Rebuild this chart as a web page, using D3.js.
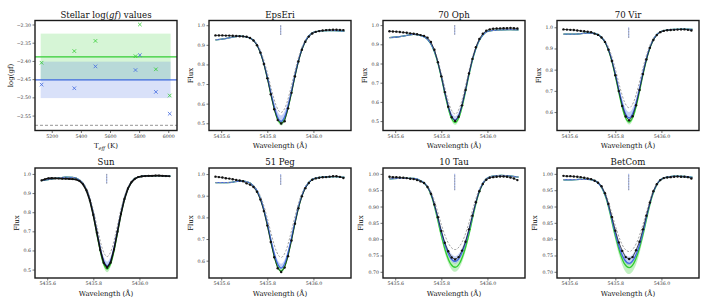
<!DOCTYPE html>
<html><head><meta charset="utf-8">
<script src="https://cdn.jsdelivr.net/npm/d3@7"></script>
<style>body{margin:0;background:#fff} svg{display:block}</style>
</head><body><svg id="c" width="707" height="303"></svg>
<script>
// ---------- DATA ----------
// Panel 1: stellar log(gf)
const teff = [5130, 5355, 5500, 5775, 5805, 5915, 6010];
const loggfGreen = [-2.405, -2.373, -2.345, -2.387, -2.300, -2.423, -2.495];
const loggfBlue  = [-2.465, -2.475, -2.415, -2.425, -2.384, -2.485, -2.545];
const greenMean = -2.389, greenBand = [-2.453, -2.325];
const blueMean = -2.452, blueBand = [-2.502, -2.402];
const bandTeffRange = [5124, 6016];
const refLoggf = -2.577;
const teffTicks = [5200, 5400, 5600, 5800, 6000];
const loggfTicks = [-2.30, -2.35, -2.40, -2.45, -2.50, -2.55];

// Spectral panels
const starNames = ["EpsEri", "70 Oph", "70 Vir", "Sun", "51 Peg", "10 Tau", "BetCom"];
const waveObs = [5435.575,5435.590,5435.605,5435.620,5435.635,5435.650,5435.665,5435.680,5435.695,5435.710,
  5435.725,5435.740,5435.755,5435.770,5435.785,5435.800,5435.815,5435.830,5435.845,5435.860,
  5435.875,5435.890,5435.905,5435.920,5435.935,5435.950,5435.965,5435.980,5435.995,5436.010,
  5436.025,5436.040,5436.055,5436.070,5436.085,5436.100,5436.115,5436.130];
const waveModel = [5435.575,5435.61,5435.645,5435.68,5435.71,5435.74,5435.76,5435.78,5435.80,5435.82,
  5435.84,5435.86,5435.88,5435.90,5435.92,5435.94,5435.96,5435.98,5436.00,5436.03,5436.06,5436.095,5436.135];
const waveCore = [5435.78,5435.80,5435.82,5435.84,5435.86,5435.88,5435.90,5435.92,5435.94];
const waveTicks = [5435.6, 5435.8, 5436.0];
const lineCentre = 5435.858, markerFlux = [0.95, 1.0];

const obsFlux = [
 [0.948,0.948,0.948,0.947,0.947,0.946,0.945,0.944,0.943,0.941,0.935,0.922,0.898,0.860,0.802,0.729,0.648,0.571,0.516,0.499,0.510,0.576,0.655,0.739,0.815,0.875,0.916,0.942,0.958,0.966,0.970,0.973,0.975,0.976,0.977,0.977,0.976,0.975],
 [0.968,0.967,0.966,0.964,0.962,0.960,0.957,0.955,0.952,0.948,0.944,0.935,0.912,0.872,0.807,0.733,0.651,0.575,0.520,0.501,0.523,0.582,0.662,0.748,0.824,0.885,0.928,0.955,0.971,0.978,0.981,0.982,0.983,0.984,0.984,0.985,0.984,0.982],
 [0.990,0.989,0.988,0.987,0.985,0.983,0.981,0.979,0.977,0.970,0.964,0.952,0.931,0.894,0.841,0.774,0.699,0.629,0.579,0.561,0.580,0.632,0.704,0.779,0.848,0.903,0.940,0.963,0.977,0.983,0.986,0.987,0.988,0.989,0.990,0.990,0.988,0.985],
 [0.966,0.972,0.977,0.978,0.977,0.976,0.975,0.975,0.974,0.973,0.971,0.963,0.946,0.914,0.861,0.785,0.693,0.603,0.535,0.510,0.536,0.606,0.698,0.791,0.868,0.923,0.956,0.974,0.984,0.987,0.989,0.990,0.990,0.991,0.991,0.990,0.989,0.988],
 [0.988,0.986,0.984,0.981,0.979,0.976,0.973,0.970,0.967,0.957,0.951,0.940,0.918,0.882,0.829,0.762,0.686,0.616,0.565,0.548,0.568,0.621,0.693,0.771,0.842,0.897,0.935,0.959,0.974,0.980,0.983,0.985,0.986,0.988,0.990,0.990,0.987,0.982],
 [0.991,0.990,0.990,0.989,0.988,0.987,0.985,0.984,0.981,0.977,0.972,0.960,0.939,0.906,0.867,0.825,0.789,0.763,0.744,0.738,0.745,0.765,0.792,0.830,0.872,0.913,0.947,0.969,0.982,0.988,0.990,0.991,0.992,0.992,0.991,0.989,0.986,0.981],
 [0.994,0.993,0.993,0.992,0.991,0.990,0.988,0.986,0.984,0.979,0.973,0.962,0.941,0.908,0.868,0.826,0.790,0.764,0.745,0.739,0.745,0.766,0.792,0.830,0.872,0.912,0.947,0.968,0.981,0.987,0.989,0.990,0.991,0.992,0.991,0.991,0.990,0.986]
];
const blueFlux = [
 [0.925,0.930,0.938,0.944,0.940,0.923,0.890,0.827,0.736,0.631,0.544,0.510,0.547,0.637,0.746,0.841,0.908,0.945,0.963,0.971,0.973,0.972,0.970],
 [0.935,0.938,0.945,0.952,0.946,0.926,0.892,0.829,0.734,0.626,0.538,0.505,0.542,0.634,0.746,0.843,0.910,0.948,0.967,0.973,0.975,0.976,0.975],
 [0.968,0.968,0.969,0.973,0.971,0.953,0.922,0.865,0.780,0.683,0.603,0.572,0.605,0.687,0.786,0.873,0.932,0.966,0.981,0.988,0.990,0.991,0.990],
 [0.965,0.972,0.978,0.983,0.982,0.968,0.942,0.887,0.792,0.671,0.563,0.520,0.565,0.673,0.796,0.891,0.948,0.976,0.985,0.990,0.991,0.991,0.989],
 [0.960,0.960,0.962,0.968,0.965,0.945,0.914,0.856,0.772,0.675,0.597,0.566,0.599,0.681,0.780,0.868,0.928,0.961,0.978,0.985,0.987,0.988,0.985],
 [0.985,0.986,0.986,0.986,0.979,0.961,0.930,0.879,0.822,0.774,0.743,0.732,0.745,0.778,0.827,0.885,0.938,0.971,0.987,0.994,0.995,0.994,0.990],
 [0.982,0.982,0.983,0.983,0.979,0.960,0.928,0.876,0.818,0.769,0.737,0.726,0.739,0.771,0.822,0.882,0.934,0.968,0.984,0.991,0.993,0.992,0.989]
];
const greenFlux = [
 [0.925,0.930,0.938,0.944,0.940,0.923,0.888,0.825,0.731,0.623,0.534,0.500,0.537,0.629,0.741,0.839,0.906,0.945,0.963,0.971,0.973,0.972,0.970],
 [0.935,0.938,0.945,0.952,0.946,0.926,0.890,0.825,0.728,0.617,0.526,0.492,0.530,0.625,0.740,0.839,0.908,0.948,0.967,0.973,0.975,0.976,0.975],
 [0.968,0.968,0.969,0.973,0.971,0.953,0.920,0.859,0.770,0.668,0.585,0.553,0.587,0.672,0.776,0.867,0.930,0.966,0.981,0.988,0.990,0.991,0.990],
 [0.965,0.972,0.978,0.983,0.982,0.968,0.940,0.883,0.785,0.658,0.547,0.502,0.548,0.660,0.788,0.888,0.946,0.976,0.985,0.990,0.991,0.991,0.989],
 [0.960,0.960,0.962,0.968,0.965,0.945,0.912,0.853,0.766,0.666,0.585,0.553,0.587,0.672,0.774,0.864,0.926,0.961,0.978,0.985,0.987,0.988,0.985],
 [0.985,0.986,0.986,0.986,0.979,0.960,0.926,0.872,0.811,0.759,0.725,0.714,0.727,0.763,0.815,0.878,0.934,0.970,0.987,0.994,0.995,0.994,0.990],
 [0.982,0.982,0.983,0.983,0.979,0.959,0.925,0.870,0.810,0.759,0.724,0.713,0.726,0.761,0.814,0.876,0.931,0.967,0.984,0.991,0.993,0.992,0.989]
];
const greyFlux = [
 [0.925,0.930,0.938,0.944,0.940,0.924,0.896,0.840,0.758,0.663,0.585,0.555,0.588,0.669,0.768,0.854,0.914,0.947,0.963,0.971,0.973,0.972,0.970],
 [0.935,0.938,0.945,0.952,0.946,0.928,0.896,0.838,0.750,0.650,0.568,0.537,0.572,0.658,0.762,0.852,0.914,0.950,0.967,0.973,0.975,0.976,0.975],
 [0.968,0.968,0.969,0.973,0.971,0.955,0.929,0.878,0.803,0.717,0.647,0.620,0.649,0.721,0.809,0.886,0.939,0.968,0.981,0.988,0.990,0.991,0.990],
 [0.965,0.972,0.978,0.983,0.982,0.970,0.947,0.897,0.812,0.703,0.606,0.568,0.608,0.705,0.816,0.901,0.953,0.978,0.985,0.990,0.991,0.991,0.989],
 [0.960,0.960,0.962,0.968,0.965,0.947,0.920,0.870,0.796,0.711,0.642,0.615,0.644,0.717,0.804,0.882,0.934,0.963,0.978,0.985,0.987,0.988,0.985],
 [0.985,0.986,0.986,0.986,0.979,0.963,0.938,0.894,0.845,0.804,0.777,0.768,0.779,0.807,0.850,0.900,0.945,0.973,0.987,0.994,0.995,0.994,0.990],
 [0.982,0.982,0.983,0.983,0.979,0.962,0.936,0.891,0.841,0.799,0.771,0.762,0.773,0.802,0.845,0.896,0.941,0.970,0.984,0.991,0.993,0.992,0.989]
];
const blueLo = [
 [0.824,0.731,0.624,0.535,0.500,0.538,0.630,0.741,0.838],
 [0.827,0.730,0.620,0.531,0.497,0.535,0.628,0.742,0.841],
 [0.863,0.777,0.679,0.597,0.566,0.599,0.683,0.783,0.871],
 [0.885,0.789,0.666,0.556,0.512,0.558,0.668,0.793,0.889],
 [0.854,0.769,0.671,0.591,0.560,0.593,0.677,0.777,0.866],
 [0.876,0.818,0.768,0.736,0.725,0.738,0.772,0.823,0.882],
 [0.874,0.814,0.764,0.731,0.720,0.733,0.766,0.818,0.880]
];
const blueHi = [
 [0.835,0.751,0.653,0.572,0.540,0.575,0.659,0.761,0.849],
 [0.835,0.744,0.641,0.556,0.525,0.560,0.649,0.756,0.849],
 [0.873,0.794,0.703,0.629,0.600,0.631,0.707,0.800,0.881],
 [0.892,0.801,0.686,0.583,0.542,0.585,0.688,0.805,0.896],
 [0.862,0.782,0.690,0.615,0.586,0.617,0.696,0.790,0.874],
 [0.886,0.832,0.787,0.758,0.748,0.760,0.791,0.837,0.892],
 [0.884,0.831,0.786,0.756,0.746,0.758,0.788,0.835,0.890]
];
const greenLo = [
 [0.822,0.725,0.614,0.523,0.488,0.526,0.620,0.735,0.836],
 [0.822,0.722,0.608,0.515,0.480,0.519,0.616,0.734,0.836],
 [0.856,0.764,0.659,0.574,0.541,0.576,0.663,0.770,0.864],
 [0.880,0.778,0.647,0.533,0.486,0.534,0.649,0.781,0.885],
 [0.850,0.761,0.659,0.576,0.543,0.578,0.665,0.769,0.861],
 [0.866,0.802,0.747,0.712,0.700,0.714,0.751,0.806,0.872],
 [0.862,0.797,0.742,0.705,0.693,0.707,0.744,0.801,0.868]
];
const greenHi = [
 [0.828,0.737,0.632,0.545,0.512,0.548,0.638,0.747,0.842],
 [0.828,0.734,0.626,0.537,0.504,0.541,0.634,0.746,0.842],
 [0.862,0.776,0.677,0.596,0.565,0.598,0.681,0.782,0.870],
 [0.885,0.790,0.666,0.558,0.514,0.559,0.668,0.793,0.890],
 [0.856,0.771,0.673,0.594,0.563,0.596,0.679,0.779,0.867],
 [0.878,0.820,0.771,0.738,0.728,0.740,0.775,0.824,0.884],
 [0.875,0.818,0.770,0.736,0.726,0.738,0.772,0.822,0.881]
];
const fluxTicksA = [0.5, 0.6, 0.7, 0.8, 0.9, 1.0];
const fluxTicksB = [0.6, 0.7, 0.8, 0.9, 1.0];
const fluxTicksC = [0.70, 0.75, 0.80, 0.85, 0.90, 0.95, 1.00];

// ---------- LAYOUT / STYLE ----------
const W = 142, H = 110;
const FONT = "DejaVu Serif, serif";
const BLUE = "#4169e1", GREEN = "#32cd32", GREY = "#999999";
const layout = [
 {x:209, y:20.5, yd:[0.463,1.024], ticks:fluxTicksA, fmt:".1f"},
 {x:383, y:20.5, yd:[0.451,1.024], ticks:fluxTicksA, fmt:".1f"},
 {x:557, y:20.5, yd:[0.513,1.032], ticks:fluxTicksB, fmt:".1f"},
 {x:35,  y:168,  yd:[0.456,1.031], ticks:fluxTicksA, fmt:".1f", thick:true},
 {x:209, y:168,  yd:[0.520,1.028], ticks:fluxTicksB, fmt:".1f"},
 {x:383, y:168,  yd:[0.681,1.018], ticks:fluxTicksC, fmt:".2f"},
 {x:557, y:168,  yd:[0.681,1.018], ticks:fluxTicksC, fmt:".2f"}
];
const waveDomain = [5435.547, 5436.163];

const svg = d3.select("#c");

function styleAxis(sel) {
  sel.attr("font-family", FONT).attr("font-size", 4.7);
  sel.select(".domain").remove();
  sel.selectAll(".tick line").attr("stroke", "#333").attr("stroke-width", 0.7);
  sel.selectAll(".tick text").attr("fill", "#333");
}
function frame(g) {
  g.append("rect").attr("x",0).attr("y",0).attr("width",W).attr("height",H)
    .attr("fill","none").attr("stroke","#1a1a1a").attr("stroke-width",1.4);
}
let clipId = 0;
function clip(g) {
  const id = "clip" + (clipId++);
  g.append("clipPath").attr("id", id).append("rect").attr("width", W).attr("height", H);
  return g.append("g").attr("clip-path", `url(#${id})`);
}

// ---------- PANEL 1 ----------
{
  const g = svg.append("g").attr("transform", "translate(35,20.5)");
  const x = d3.scaleLinear().domain([5085, 6060]).range([0, W]);
  const y = d3.scaleLinear().domain([-2.591, -2.289]).range([H, 0]);
  const c = clip(g);
  c.append("rect").attr("x", x(bandTeffRange[0])).attr("width", x(bandTeffRange[1]) - x(bandTeffRange[0]))
    .attr("y", y(greenBand[1])).attr("height", y(greenBand[0]) - y(greenBand[1]))
    .attr("fill", GREEN).attr("fill-opacity", 0.2);
  c.append("rect").attr("x", x(bandTeffRange[0])).attr("width", x(bandTeffRange[1]) - x(bandTeffRange[0]))
    .attr("y", y(blueBand[1])).attr("height", y(blueBand[0]) - y(blueBand[1]))
    .attr("fill", BLUE).attr("fill-opacity", 0.2);
  c.append("line").attr("x1",0).attr("x2",W).attr("y1",y(greenMean)).attr("y2",y(greenMean))
    .attr("stroke",GREEN).attr("stroke-width",1.1);
  c.append("line").attr("x1",0).attr("x2",W).attr("y1",y(blueMean)).attr("y2",y(blueMean))
    .attr("stroke",BLUE).attr("stroke-width",1.1);
  c.append("line").attr("x1",0).attr("x2",W).attr("y1",y(refLoggf)).attr("y2",y(refLoggf))
    .attr("stroke","#aaa").attr("stroke-width",1.2).attr("stroke-dasharray","3,2");
  const xm = "M-1.8,-1.8L1.8,1.8M-1.8,1.8L1.8,-1.8";
  c.selectAll(".gx").data(teff).join("path").attr("d", xm)
    .attr("transform", (d,i) => `translate(${x(d)},${y(loggfGreen[i])})`)
    .attr("stroke", GREEN).attr("stroke-width", 0.8).attr("fill","none");
  c.selectAll(".bx").data(teff).join("path").attr("d", xm)
    .attr("transform", (d,i) => `translate(${x(d)},${y(loggfBlue[i])})`)
    .attr("stroke", BLUE).attr("stroke-width", 0.8).attr("fill","none");
  frame(g);
  g.append("g").attr("transform", `translate(0,${H})`)
    .call(d3.axisBottom(x).tickValues(teffTicks).tickSize(2.5).tickPadding(1.5).tickFormat(d3.format("d")))
    .call(styleAxis);
  g.append("g").call(d3.axisLeft(y).tickValues(loggfTicks).tickSize(2.5).tickPadding(1.5).tickFormat(d3.format(".2f")))
    .call(styleAxis);
  const t = g.append("text").attr("x", W/2).attr("y", -3).attr("text-anchor","middle")
    .attr("font-family", FONT).attr("font-size", 8.6).attr("fill","#111");
  t.append("tspan").text("Stellar log(");
  t.append("tspan").attr("font-style","italic").text("gf");
  t.append("tspan").text(") values");
  const xl = g.append("text").attr("x", W/2).attr("y", H + 17.5).attr("text-anchor","middle")
    .attr("font-family", FONT).attr("font-size", 7).attr("fill","#111");
  xl.append("tspan").text("T");
  xl.append("tspan").attr("font-size", 5).attr("font-style","italic").attr("dy", 1.5).text("eff");
  xl.append("tspan").attr("dy", -1.5).text(" (K)");
  g.append("text").attr("transform", `translate(-22.5,${H/2}) rotate(-90)`).attr("text-anchor","middle")
    .attr("font-family", FONT).attr("font-size", 7).attr("fill","#111").text("log(gf)");
}

// ---------- SPECTRAL PANELS ----------
starNames.forEach((name, i) => {
  const L = layout[i];
  const g = svg.append("g").attr("transform", `translate(${L.x},${L.y})`);
  const x = d3.scaleLinear().domain(waveDomain).range([0, W]);
  const y = d3.scaleLinear().domain(L.yd).range([H, 0]);
  const c = clip(g);
  const curve = d3.curveMonotoneX;
  const band = (lo, hi) => d3.area().x((d,j) => x(waveCore[j])).y0((d,j) => y(lo[j])).y1((d,j) => y(hi[j])).curve(curve)(waveCore);
  c.append("path").attr("d", band(greenLo[i], greenHi[i])).attr("fill", GREEN).attr("fill-opacity", 0.3);
  c.append("path").attr("d", band(blueLo[i], blueHi[i])).attr("fill", BLUE).attr("fill-opacity", 0.3);
  const mline = arr => d3.line().x((d,j) => x(waveModel[j])).y(d => y(d)).curve(curve)(arr);
  c.append("path").attr("d", mline(greenFlux[i])).attr("fill","none").attr("stroke", GREEN).attr("stroke-width", 1.3);
  c.append("path").attr("d", mline(blueFlux[i])).attr("fill","none").attr("stroke", BLUE).attr("stroke-width", 1.3);
  c.append("path").attr("d", mline(greyFlux[i])).attr("fill","none").attr("stroke", GREY).attr("stroke-width", 0.9).attr("stroke-dasharray","2.2,1.6");
  const oline = d3.line().x((d,j) => x(waveObs[j])).y(d => y(d));
  c.append("path").attr("d", oline(obsFlux[i])).attr("fill","none").attr("stroke","#111").attr("stroke-width", L.thick ? 1.6 : 0.7);
  c.selectAll(".o").data(obsFlux[i]).join("circle").attr("cx",(d,j)=>x(waveObs[j])).attr("cy",d=>y(d))
    .attr("r", L.thick ? 1.1 : 1.2).attr("fill","#111");
  c.append("line").attr("x1", x(lineCentre)).attr("x2", x(lineCentre)).attr("y1", y(markerFlux[0])).attr("y2", y(markerFlux[1]))
    .attr("stroke", BLUE).attr("stroke-width", 0.9).attr("stroke-opacity", 0.6);
  c.append("line").attr("x1", x(lineCentre)).attr("x2", x(lineCentre)).attr("y1", y(markerFlux[0])).attr("y2", y(markerFlux[1]))
    .attr("stroke", GREY).attr("stroke-width", 0.9).attr("stroke-dasharray","1.5,1.2");
  frame(g);
  g.append("g").attr("transform", `translate(0,${H})`)
    .call(d3.axisBottom(x).tickValues(waveTicks).tickSize(2.5).tickPadding(1.5).tickFormat(d3.format(".1f")))
    .call(styleAxis);
  g.append("g").call(d3.axisLeft(y).tickValues(L.ticks).tickSize(2.5).tickPadding(1.5).tickFormat(d3.format(L.fmt)))
    .call(styleAxis);
  g.append("text").attr("x", W/2).attr("y", -3).attr("text-anchor","middle")
    .attr("font-family", FONT).attr("font-size", 8.6).attr("fill","#111").text(name);
  g.append("text").attr("x", W/2).attr("y", H + 17.5).attr("text-anchor","middle")
    .attr("font-family", FONT).attr("font-size", 7).attr("fill","#111").text("Wavelength (\u00c5)");
  g.append("text").attr("transform", `translate(${L.fmt === ".2f" ? -20 : -16},${H/2}) rotate(-90)`).attr("text-anchor","middle")
    .attr("font-family", FONT).attr("font-size", 7).attr("fill","#111").text("Flux");
});
</script></body></html>
